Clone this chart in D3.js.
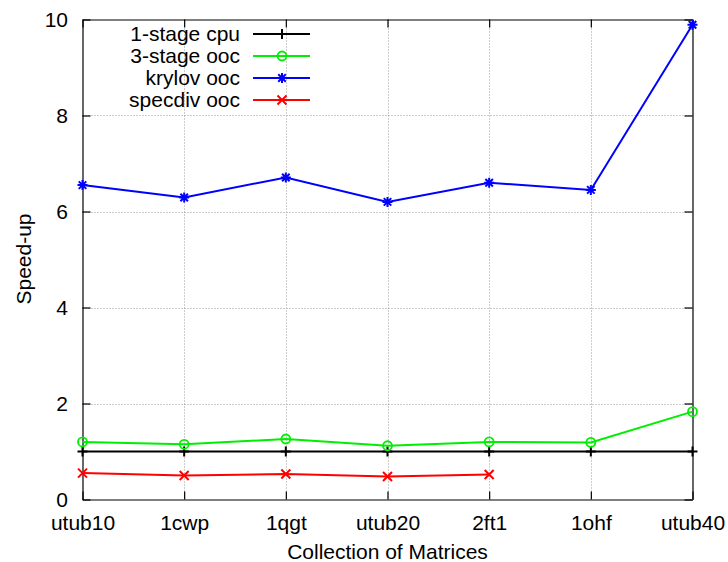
<!DOCTYPE html>
<html>
<head>
<meta charset="utf-8">
<script src="https://cdn.jsdelivr.net/npm/d3@7"></script>
<style>
  html, body { margin: 0; padding: 0; background: #fff; }
  svg { display: block; font-family: "Liberation Sans", Arial, Helvetica, sans-serif; }
</style>
</head>
<body>
<svg id="chart" width="728" height="562"></svg>
<script>
// Matrix collection on the x axis
const matrices = ["utub10", "1cwp", "1qgt", "utub20", "2ft1", "1ohf", "utub40"];

// Speed-up per matrix for each solver
const cpu1Stage   = [1.0, 1.0, 1.0, 1.0, 1.0, 1.0, 1.0];
const ooc3Stage   = [1.20, 1.15, 1.26, 1.12, 1.20, 1.19, 1.83];
const krylovOoc   = [6.55, 6.29, 6.71, 6.20, 6.60, 6.45, 9.89];
const specdivOoc  = [0.55, 0.50, 0.53, 0.48, 0.52];

const yTicks = [0, 2, 4, 6, 8, 10];

const seriesNames = ["1-stage cpu", "3-stage ooc", "krylov ooc", "specdiv ooc"];
const seriesColors = ["#000000", "#00ee00", "#0000ff", "#ff0000"];
const seriesMarkers = ["plus", "circle", "star", "cross"];
const seriesValues = [cpu1Stage, ooc3Stage, krylovOoc, specdivOoc];

const svg = d3.select("#chart");
const plotLeft = 82.5, plotRight = 692.5, plotTop = 19.5, plotBottom = 499.5;

const x = d3.scalePoint().domain(matrices).range([plotLeft, plotRight]);
const y = d3.scaleLinear().domain([0, 10]).range([plotBottom, plotTop]);

// grid
const grid = svg.append("g")
  .attr("stroke", "#999").attr("stroke-width", 1).attr("stroke-dasharray", "1,2");
grid.selectAll("line.h").data(yTicks.filter(t => t > 0 && t < 10)).join("line")
  .attr("x1", plotLeft).attr("x2", plotRight)
  .attr("y1", d => Math.round(y(d)) + 0.5).attr("y2", d => Math.round(y(d)) + 0.5);
grid.selectAll("line.v").data(matrices.slice(1, -1)).join("line")
  .attr("y1", plotTop).attr("y2", plotBottom)
  .attr("x1", d => Math.round(x(d)) + 0.5).attr("x2", d => Math.round(x(d)) + 0.5);

// axes: ticks point inward on all four sides
const fontSize = 21;
const yAxisL = d3.axisLeft(y).tickValues(yTicks).tickSizeInner(-8).tickSizeOuter(0).tickPadding(14.5);
const gL = svg.append("g").attr("transform", `translate(${plotLeft},0)`).call(yAxisL);
const yAxisR = d3.axisRight(y).tickValues(yTicks).tickSizeInner(-8).tickSizeOuter(0).tickFormat("");
const gR = svg.append("g").attr("transform", `translate(${plotRight},0)`).call(yAxisR);
const xAxisB = d3.axisBottom(x).tickSizeInner(-8).tickSizeOuter(0).tickPadding(0);
const gB = svg.append("g").attr("transform", `translate(0,${plotBottom})`).call(xAxisB);
const xAxisT = d3.axisTop(x).tickSizeInner(-8).tickSizeOuter(0).tickFormat("");
const gT = svg.append("g").attr("transform", `translate(0,${plotTop})`).call(xAxisT);

[gL, gR, gB, gT].forEach(g => {
  g.select(".domain").attr("stroke", "#000").attr("stroke-width", 1.2);
  g.selectAll(".tick line").attr("stroke", "#000").attr("stroke-width", 1.2);
  g.selectAll(".tick text").attr("fill", "#000")
    .style("font-size", fontSize + "px")
    .style("font-family", "Liberation Sans, Arial, sans-serif");
});
gL.selectAll(".tick text").attr("dy", "0.35em");
gB.selectAll(".tick text").attr("y", 30.5).attr("dy", 0);

// axis titles
svg.append("text")
  .attr("x", (plotLeft + plotRight) / 2).attr("y", 559)
  .attr("text-anchor", "middle").style("font-size", fontSize + "px")
  .text("Collection of Matrices");
svg.append("text")
  .attr("transform", "translate(31,259) rotate(-90)")
  .attr("text-anchor", "middle").style("font-size", fontSize + "px")
  .text("Speed-up");

// point markers
function drawMarker(g, type, cx, cy, color) {
  const s = 5;
  if (type === "plus") {
    g.append("path").attr("d", `M${cx - s},${cy}H${cx + s}M${cx},${cy - s}V${cy + s}`)
      .attr("stroke", color).attr("stroke-width", 2).attr("fill", "none");
  } else if (type === "circle") {
    g.append("circle").attr("cx", cx).attr("cy", cy).attr("r", 4.5)
      .attr("stroke", color).attr("stroke-width", 1.8).attr("fill", "none");
  } else if (type === "star") {
    const d = s * 0.75;
    g.append("path")
      .attr("d", `M${cx - s},${cy}H${cx + s}M${cx},${cy - s}V${cy + s}M${cx - d},${cy - d}L${cx + d},${cy + d}M${cx - d},${cy + d}L${cx + d},${cy - d}`)
      .attr("stroke", color).attr("stroke-width", 2).attr("fill", "none");
  } else if (type === "cross") {
    const d = s * 0.9;
    g.append("path")
      .attr("d", `M${cx - d},${cy - d}L${cx + d},${cy + d}M${cx - d},${cy + d}L${cx + d},${cy - d}`)
      .attr("stroke", color).attr("stroke-width", 2).attr("fill", "none");
  }
}

const line = d3.line().x((d, i) => x(matrices[i])).y(d => y(d));

seriesValues.forEach((vals, k) => {
  const g = svg.append("g");
  g.append("path").datum(vals).attr("d", line)
    .attr("fill", "none").attr("stroke", seriesColors[k]).attr("stroke-width", 2);
  vals.forEach((v, i) => drawMarker(g, seriesMarkers[k], x(matrices[i]), y(v), seriesColors[k]));
});

// legend
const legendRowY = [34, 56, 78, 100];
const legend = svg.append("g");
seriesNames.forEach((name, k) => {
  const ly = legendRowY[k];
  legend.append("text").attr("x", 240).attr("y", ly).attr("dy", "0.35em")
    .attr("text-anchor", "end").style("font-size", fontSize + "px").text(name);
  legend.append("line").attr("x1", 253).attr("x2", 310).attr("y1", ly).attr("y2", ly)
    .attr("stroke", seriesColors[k]).attr("stroke-width", 2);
  drawMarker(legend, seriesMarkers[k], 282, ly, seriesColors[k]);
});
</script>
</body>
</html>
